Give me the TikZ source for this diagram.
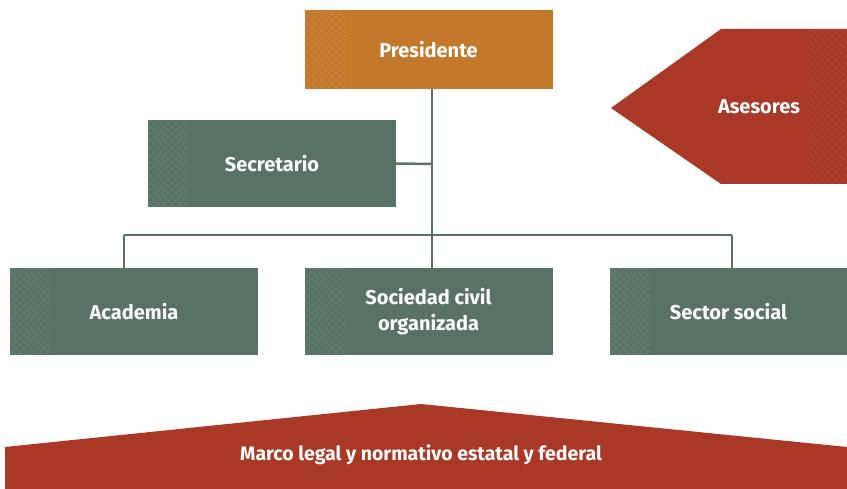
\documentclass[tikz,border=0pt]{standalone}
\usepackage{fontspec}
\setmainfont{Fira Sans}
\definecolor{orangebox}{HTML}{C4782B}
\definecolor{greenbox}{HTML}{587265}
\definecolor{redbox}{HTML}{A93826}
\tikzset{
  box/.style={draw=none, minimum width=248pt, minimum height=88pt, inner sep=0pt, text=white, font=\bfseries\fontsize{20}{24}\selectfont, align=center},
  link/.style={draw=greenbox, line width=2.5pt},
}
\newcommand{\hatchstrip}[5]{% x1 y1 x2 y2 color
  \begin{scope}
  \clip (#1,#2) rectangle (#3,#4);
  \foreach \k in {-200,-193,...,200} {
    \draw[#5, line width=0.7pt] (#1+\k,#2) -- ++(200,200);
    \draw[#5, line width=0.7pt] (#1+\k,#2) -- ++(-200,200);
  }
  \end{scope}}
\begin{document}
\begin{tikzpicture}[x=1pt,y=-1pt]
\useasboundingbox (0,0) rectangle (847,489);
% Presidente
\node[box, fill=orangebox, minimum height=79pt] (pres) at (428.5,49.5) {};
\hatchstrip{305}{10}{345}{89}{white!12!orangebox}
\node[text=white, font=\bfseries\fontsize{20}{24}\selectfont] at (pres.center) {Presidente};
% Secretario
\node[box, fill=greenbox, minimum height=87pt] (sec) at (272,163.5) {};
\hatchstrip{148}{120}{188}{207}{white!10!greenbox}
\node[text=white, font=\bfseries\fontsize{20}{24}\selectfont] at (sec.center) {Secretario};
% bottom row
\node[box, fill=greenbox, minimum height=87pt] (acad) at (134,311.5) {};
\hatchstrip{10}{268}{50}{355}{white!10!greenbox}
\node[text=white, font=\bfseries\fontsize{20}{24}\selectfont] at (acad.center) {Academia};
\node[box, fill=greenbox, minimum height=87pt] (soc) at (428.5,311.5) {};
\hatchstrip{305}{268}{345}{355}{white!10!greenbox}
\node[text=white, align=center, font=\bfseries\fontsize{20}{26}\selectfont] at (soc.center) {Sociedad civil\\organizada};
\node[box, fill=greenbox, minimum height=87pt, minimum width=237pt] (sect) at (728.5,311.5) {};
\hatchstrip{610}{268}{650}{355}{white!10!greenbox}
\node[text=white, font=\bfseries\fontsize{20}{24}\selectfont] at (sect.center) {Sector social};
% connectors
\coordinate (j1) at (432,164);
\coordinate (j2) at (432,235);
\coordinate (la) at (124,235);
\coordinate (lc) at (732,235);
\draw[link] (pres.south -| j1) -- (j2);
\draw[link] (sec.east) -- (j1);
\draw[link] (la) -- (lc);
\draw[link] (la) -- (la |- acad.north);
\draw[link] (j2) -- (j2 |- soc.north);
\draw[link] (lc) -- (lc |- sect.north);
% Asesores
\fill[redbox] (611,108) -- (721,29) -- (847,29) -- (847,184) -- (721,184) -- cycle;
\hatchstrip{808}{29}{847}{184}{white!8!redbox}
\node[text=white, font=\bfseries\fontsize{20}{24}\selectfont] (ases) at (759,107) {Asesores};
% Marco legal
\fill[redbox] (5,447) -- (421,404) -- (847,447) -- (847,489) -- (5,489) -- cycle;
\node[text=white, font=\bfseries\fontsize{19.5}{23}\selectfont] (marco) at (421,455) {Marco legal y normativo estatal y federal};
\end{tikzpicture}
\end{document}
